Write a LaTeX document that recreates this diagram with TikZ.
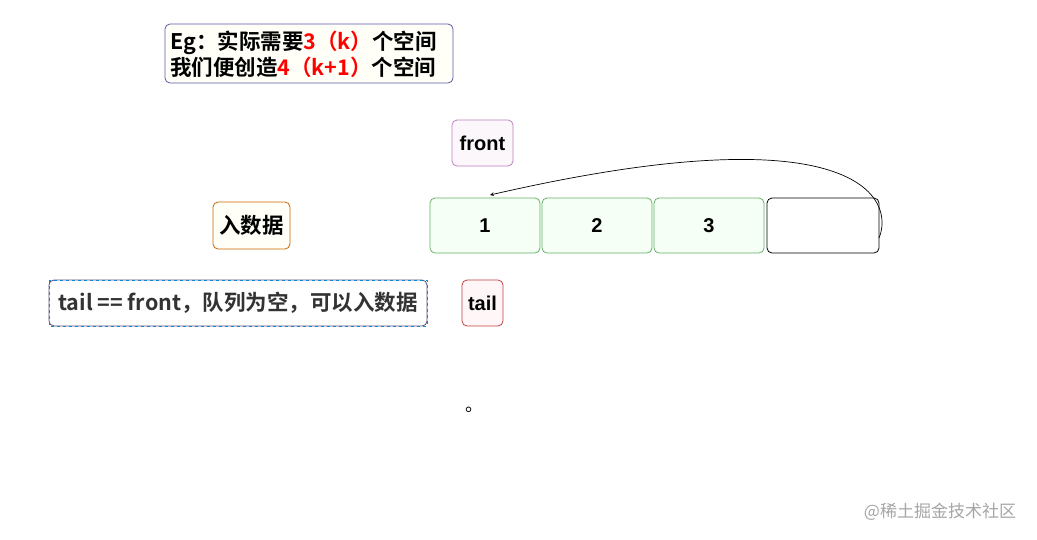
\documentclass[tikz,border=0pt]{standalone}
\usepackage{fontspec}
\setmainfont{Liberation Sans}
\newfontfamily\cjk{Noto Sans CJK SC}[BoldFont={Noto Sans CJK SC Bold}]
\begin{document}
\begin{tikzpicture}[x=1pt,y=-1pt,
  bx/.style={draw, rounded corners=5pt, line width=0.8pt},
  cell/.style={bx, draw=green!50!black!60, fill=green!4},
  lab/.style={font=\fontsize{20}{24}\selectfont\bfseries},
  big/.style={font=\fontsize{21.5}{26}\selectfont\bfseries}]
\useasboundingbox (0,0) rectangle (1037,539);
\fill[white] (0,0) rectangle (1037,539);
\draw[bx, draw=blue!30!gray, fill=yellow!3] (165,24) rectangle (453,83);
\node[big, align=left, anchor=west, inner sep=0pt] (eg) at (170,54) {\cjk Eg：实际需要{\color{red}3（k）}个空间\\\cjk 我们便创造{\color{red}4（k+1）}个空间};
\draw[bx, draw=violet!50, fill=violet!3] (452,120) rectangle (513,166) node[midway, lab] (front) {front};
\draw[cell] (430,198) rectangle (540,253) node[midway, lab] (c1) {1};
\draw[cell] (542,198) rectangle (652,253) node[midway, lab] (c2) {2};
\draw[cell] (654,198) rectangle (764,253) node[midway, lab] (c3) {3};
\draw[bx, draw=black] (767,198) rectangle (879,253) node[midway] (c4) {};
\coordinate (s) at (879,238);
\coordinate (e) at (490,195);
\draw[-stealth, line width=0.7pt] (s) .. controls (895,200) and (860,110) .. (e);
\draw[bx, draw=orange!80!black, fill=yellow!3] (213,202) rectangle (290,249) node[midway, big] (in) {\cjk 入数据};
\draw[bx, draw=blue!20!gray!80!black] (49,280) rectangle (427,326) node[midway, big, text=black!80] (tf) {\cjk tail == front，队列为空，可以入数据};
\draw[dashed, draw=cyan!70!blue, line width=0.6pt] (49,280) rectangle (427,326);
\draw[bx, draw=red!50!gray, fill=red!3] (462,280) rectangle (503,326) node[midway, lab] (tail) {tail};
\node[font=\fontsize{18}{20}\selectfont] (dot) at (474,410) {\cjk 。};
\node[font=\fontsize{17}{20}\selectfont, text=gray!70] (wm) at (940,512) {\cjk @稀土掘金技术社区};
\end{tikzpicture}
\end{document}
